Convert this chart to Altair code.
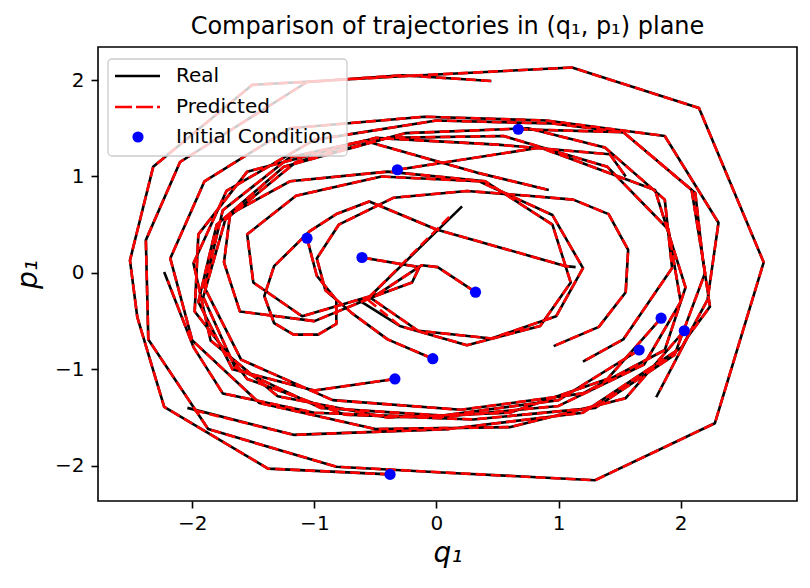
import altair as alt
import pandas as pd

# ---------------- data (q1, p1 vertices) ----------------
traj_A_q = [-0.38, -1.38, -2.23, -2.45, -2.51, -2.32, -1.51, -0.28, 1.11, 2.15, 2.68, 2.28, 1.30, 0.20, -0.82, -1.87, -2.36, -2.38, -2.10, -1.06, -0.28, 0.45]
traj_A_p = [-2.09, -2.03, -1.39, -0.46, 0.13, 1.10, 1.95, 2.04, 2.13, 1.71, 0.11, -1.56, -2.15, -2.08, -2.01, -1.62, -0.69, 0.34, 1.15, 1.98, 2.05, 1.99]

traj_K_q = [2.03, 1.55, 0.60, -0.50, -1.45, -2.00, -2.18, -1.90, -1.20, -0.10, 0.90, 1.87, 2.31, 2.22, 2.01, 1.20, 0.10, -1.17, -2.04]
traj_K_p = [-0.60, -1.30, -1.60, -1.62, -1.35, -0.70, 0.15, 0.95, 1.50, 1.62, 1.58, 1.42, 0.52, -0.28, -0.77, -1.45, -1.62, -1.68, -1.40]

traj_J_q = [1.84, 1.40, 0.60, -0.40, -1.30, -1.85, -1.99, -1.72, -1.00, 0.00, 0.95, 1.53, 2.12, 2.18, 2.24, 2.06, 1.80]
traj_J_p = [-0.47, -1.10, -1.45, -1.50, -1.28, -0.70, 0.10, 0.85, 1.38, 1.58, 1.55, 1.46, 0.83, 0.16, -0.35, -0.66, -1.29]

traj_I_q = [1.66, 1.00, 0.05, -0.95, -1.65, -1.91, -1.73, -1.15, -0.25, 0.75, 1.38, 1.87, 1.93, 1.53, 1.20]
traj_I_p = [-0.80, -1.32, -1.48, -1.40, -0.98, -0.25, 0.55, 1.15, 1.45, 1.50, 1.30, 0.76, 0.05, -0.69, -0.92]

traj_C_q = [0.67, 1.53, 2.09, 2.20, 1.95, 1.30, 0.30, -0.75, -1.55, -1.98, -1.95, -1.55, -0.50, 0.50, 1.42, 1.55]
traj_C_p = [1.49, 1.46, 0.86, 0.00, -0.85, -1.40, -1.52, -1.47, -1.10, -0.40, 0.40, 1.05, 1.40, 1.33, 1.23, 1.00]

traj_D_q = [-0.32, 0.85, 1.79, 2.04, 1.87, 1.20, 0.20, -0.85, -1.60, -1.90, -1.75, -1.20, -0.59, 0.33, 0.92]
traj_D_p = [1.07, 1.30, 0.86, -0.15, -0.80, -1.25, -1.42, -1.32, -0.90, -0.15, 0.65, 1.20, 1.37, 1.04, 0.86]

traj_G_q = [-0.34, -1.00, -1.67, -1.95, -1.80, -1.25, -0.40, 0.55, 1.40, 1.90, 2.00, 1.70, 1.00, 0.00, -1.00, -1.75, -1.99, -2.23]
traj_G_p = [-1.10, -1.22, -1.00, -0.30, 0.50, 1.10, 1.40, 1.42, 1.10, 0.45, -0.30, -0.95, -1.38, -1.50, -1.45, -1.25, -0.77, 0.01]

traj_H_q = [-0.03, -0.40, -0.69, -0.91, -0.98, -0.80, -0.35, 0.25, 0.75, 1.12, 1.41, 1.57, 1.55, 1.33, 0.96]
traj_H_p = [-0.89, -0.69, -0.42, -0.18, 0.15, 0.50, 0.78, 0.85, 0.80, 0.76, 0.61, 0.24, -0.20, -0.56, -0.76]

traj_E_q = [-1.06, -0.98, -0.82, -0.82, -0.97, -1.17, -1.33, -1.41, -1.33, -1.04, -0.82, -0.55, 0.00, 1.06, 1.14]
traj_E_p = [0.36, -0.03, -0.28, -0.53, -0.64, -0.64, -0.52, -0.24, 0.07, 0.43, 0.61, 0.74, 0.45, 0.07, 0.06]

traj_F_q = [-0.61, -0.14, -0.20, -0.50, -1.00, -1.61, -1.74, -1.69, -1.20, -0.40, 0.40, 0.95, 1.10, 0.85, 0.25, -0.30, -0.64]
traj_F_p = [0.16, 0.06, -0.10, -0.24, -0.50, -0.40, 0.11, 0.61, 0.95, 1.05, 0.95, 0.50, -0.10, -0.55, -0.75, -0.55, -0.28]

traj_M_q = [0.32, 0.01, -0.12, -0.48, -1.10, -1.50, -1.55, -1.15, -0.45, 0.35, 0.95, 1.20, 0.98, 0.45, -0.15, -0.55, 0.21]
traj_M_p = [-0.20, 0.06, 0.08, -0.22, -0.45, -0.10, 0.40, 0.80, 1.00, 0.95, 0.60, 0.05, -0.45, -0.68, -0.60, -0.25, 0.69]

trajectories = {
    "A": (traj_A_q, traj_A_p), "K": (traj_K_q, traj_K_p), "J": (traj_J_q, traj_J_p),
    "I": (traj_I_q, traj_I_p), "C": (traj_C_q, traj_C_p), "D": (traj_D_q, traj_D_p),
    "G": (traj_G_q, traj_G_p), "H": (traj_H_q, traj_H_p), "E": (traj_E_q, traj_E_p),
    "F": (traj_F_q, traj_F_p), "M": (traj_M_q, traj_M_p),
}

# predicted trajectories coincide with the real ones except for the final vertex here
pred_last = {"M": (0.12, 0.60), "F": (-0.58, -0.26), "G": (-2.20, -0.08),
             "K": (-2.00, -1.42), "E": (1.10, 0.06), "J": (1.83, -1.22)}

legend_labels = ["Real", "Predicted", "Initial Condition"]
x_limits = [-2.772, 2.953]
y_limits = [-2.366, 2.343]
x_ticks = [-2, -1, 0, 1, 2]
y_ticks = [-2, -1, 0, 1, 2]

# ---------------- tables ----------------
real_rows, pred_rows, ic_rows = [], [], []
for name, (qs, ps) in trajectories.items():
    n = len(qs)
    for i, (q, p) in enumerate(zip(qs, ps)):
        real_rows.append({"traj": name, "step": i, "q": q, "p": p})
        if i == n - 1 and name in pred_last:
            pq, pp = pred_last[name]
            pred_rows.append({"traj": name, "step": i, "q": pq, "p": pp})
        else:
            pred_rows.append({"traj": name, "step": i, "q": q, "p": p})
    ic_rows.append({"traj": name, "q": qs[0], "p": ps[0]})

real_df = pd.DataFrame(real_rows)
pred_df = pd.DataFrame(pred_rows)
ic_df = pd.DataFrame(ic_rows)
one = pd.DataFrame({"k": [0]})

FONT = "DejaVu Sans"
DASH = [10, 5]

xenc = alt.X("q:Q", scale=alt.Scale(domain=x_limits, nice=False, zero=False),
             axis=alt.Axis(values=x_ticks, format="~g", title="q₁"))
yenc = alt.Y("p:Q", scale=alt.Scale(domain=y_limits, nice=False, zero=False),
             axis=alt.Axis(values=y_ticks, format="~g", title="p₁"))

real = alt.Chart(real_df).mark_line(color="black", strokeWidth=2.6, strokeJoin="round").encode(
    x=xenc, y=yenc, detail="traj:N", order="step:Q")
pred = alt.Chart(pred_df).mark_line(color="#ff0000", strokeWidth=2.6, strokeDash=DASH,
                                    strokeJoin="round").encode(
    x="q:Q", y="p:Q", detail="traj:N", order="step:Q")
ic = alt.Chart(ic_df).mark_circle(color="#0000ff", size=125, opacity=1).encode(x="q:Q", y="p:Q")

# ---------------- legend (drawn inside the plot, upper left) ----------------
leg_box = alt.Chart(one).mark_rect(fill="white", fillOpacity=0.8, stroke="#cccccc",
                                   strokeWidth=1.3, cornerRadius=4).encode(
    x=alt.value(10), x2=alt.value(249), y=alt.value(12), y2=alt.value(109))
leg_real = alt.Chart(one).mark_rule(color="black", strokeWidth=2.6).encode(
    x=alt.value(17), x2=alt.value(62), y=alt.value(29))
leg_pred = alt.Chart(one).mark_rule(color="#ff0000", strokeWidth=2.6, strokeDash=[17, 4]).encode(
    x=alt.value(17), x2=alt.value(62), y=alt.value(60))
leg_dot = alt.Chart(one).mark_circle(color="#0000ff", size=125, opacity=1).encode(
    x=alt.value(40), y=alt.value(90))
leg_texts = [
    alt.Chart(one).mark_text(align="left", baseline="middle", font=FONT, fontSize=20,
                             color="black").encode(x=alt.value(78), y=alt.value(yy),
                                                   text=alt.value(lbl))
    for lbl, yy in zip(legend_labels, [29, 60, 90])
]

chart = alt.layer(real, pred, ic, leg_box, leg_real, leg_pred, leg_dot, *leg_texts).properties(
    width=699, height=454,
    autosize=alt.AutoSizeParams(type="none"),
    padding={"left": 90, "top": 39, "right": 5, "bottom": 80},
    title=alt.TitleParams("Comparison of trajectories in (q₁, p₁) plane", font=FONT, fontSize=24,
                          fontWeight="normal", color="black", anchor="middle", offset=8),
).configure_view(stroke="black", strokeWidth=1.6).configure_axis(
    grid=False, domain=False, ticks=True, tickSize=7, tickWidth=1.6, tickColor="black",
    labelFont=FONT, labelFontSize=20, labelColor="black", labelPadding=5,
    titleFont=FONT, titleFontSize=28, titleFontStyle="italic", titleFontWeight="normal",
    titleColor="black",
).configure_axisX(titlePadding=6).configure_axisY(titlePadding=12, labelPadding=7)

chart.save("out.html", embed_options={"renderer": "svg", "actions": False})
